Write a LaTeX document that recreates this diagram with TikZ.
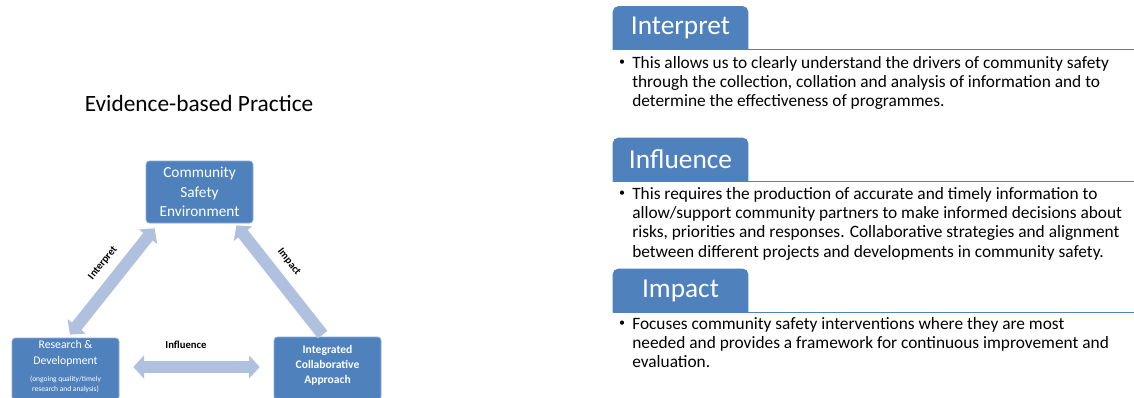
\documentclass[tikz,border=0pt]{standalone}
\usepackage{fontspec}
\setmainfont{Carlito}
\usetikzlibrary{arrows.meta,calc,backgrounds}
\definecolor{boxblue}{HTML}{4F81BD}
\definecolor{arrowblue}{HTML}{AFC1DF}
\definecolor{edgeblue}{HTML}{8FAEDA}
\begin{document}
\begin{tikzpicture}[x=0.75pt,y=-0.75pt,
  cbox/.style={draw=edgeblue, line width=0.5pt, fill=boxblue, rounded corners=2.5pt,
    text=white, align=center, inner sep=0pt, minimum width=80.25pt, minimum height=46.5pt},
  fat/.style={draw=arrowblue, line width=9pt},
  arrlabel/.style={font=\bfseries\fontsize{8}{9}\selectfont, text=black, inner sep=0pt},
  tabtitle/.style={text=white, font=\fontsize{20.5}{22}\selectfont, minimum width=101.25pt,
    minimum height=32.25pt, inner sep=0pt},
  tabfill/.style={fill=boxblue},
  rule/.style={draw=boxblue, line width=0.8pt},
  para/.style={anchor=north west, align=left, inner sep=0pt,
    font=\fontsize{13}{14.5}\selectfont, text=black},
  bullet/.style={inner sep=0pt, font=\fontsize{9}{10}\selectfont}
  ]
\useasboundingbox (0,0) rectangle (1134,397);
\clip (0,0) rectangle (1134,397);
\coordinate (R) at (1134,0);

% Title
\node[inner sep=0pt, font=\fontsize{17.5}{20}\selectfont] (title) at (199,103) {Evidence-based Practice};

% Boxes
\node[cbox, font=\fontsize{11.5}{14.5}\selectfont] (cse) at (199.5,192) {Community\\Safety\\Environment};
\node[cbox, minimum height=46.5pt] (rd) at (65.5,369) {};
\node[align=center, text=white, inner sep=0pt, font=\fontsize{8.8}{12}\selectfont] (rdt) at ($(rd.north)+(0,16)$) {Research \&\\Development};
\node[align=center, text=white, inner sep=0pt, font=\fontsize{5.6}{7.5}\selectfont] (rds) at ($(rd.north)+(0,47)$) {(ongoing quality/timely\\research and analysis)};
\node[cbox, minimum height=47.25pt] (ica) at (327.5,368.5) {};
\node[align=center, text=white, inner sep=0pt, font=\bfseries\fontsize{8.7}{11.2}\selectfont] (icat) at ($(ica.north)+(0,29)$) {Integrated\\Collaborative\\Approach};

% Fat arrows
\draw[fat, {Triangle[width=17pt,length=8pt]}-{Triangle[width=17pt,length=8pt]}]
  ($(rd.north)+(4.5,-3)$) -- ($(cse.south west)+(9,5)$);
\draw[fat, -{Triangle[width=17pt,length=8pt]}]
  ($(ica.north west)+(49,-2)$) -- ($(cse.south east)+(-17,2)$);
\draw[fat, {Triangle[width=17pt,length=8pt]}-{Triangle[width=17pt,length=8pt]}]
  ($(rd.east)+(14,-2)$) -- ($(ica.west)+(-14,-1.5)$);

% Arrow labels
\node[arrlabel, rotate=51.5] (lint) at (103,263) {Interpret};
\node[arrlabel, rotate=-51.7] (limp) at (289,262) {Impact};
\node[arrlabel] (linf) at (186,345) {Influence};

% Right side tabs
\node[tabtitle] (t1) at (680.5,28) {Interpret};
\node[tabtitle] (t2) at (680.5,159.5) {Influence};
\node[tabtitle] (t3) at (680.5,290.5) {Impact};
\begin{scope}[on background layer]
  \fill[white] (0,0) rectangle (1134,397);
  \foreach \t in {t1,t2,t3}{
    \fill[tabfill] (\t.south west) [rounded corners=4pt] -- (\t.north west) -- (\t.north east) [sharp corners] -- (\t.south east) -- cycle;
  }
\end{scope}
\draw[rule] (t1.south west) -- (t1.south west -| R);
\draw[rule] (t2.south west) -- (t2.south west -| R);
\draw[rule] (t3.south west) -- (t3.south west -| R);

\node[bullet] (b1) at (622,63) {•};
\node[para] (p1) at (632,56) {This allows us to clearly understand the drivers of community safety\\through the collection, collation and analysis of information and to\\determine the effectiveness of programmes.};
\node[bullet] (b2) at (622,194) {•};
\node[para] (p2) at (632,187) {This requires the production of accurate and timely information to\\allow/support community partners to make informed decisions about\\risks, priorities and responses. Collaborative strategies and alignment\\between different projects and developments in community safety.};
\node[bullet] (b3) at (622,324) {•};
\node[para] (p3) at (632,317) {Focuses community safety interventions where they are most\\needed and provides a framework for continuous improvement and\\evaluation.};
\end{tikzpicture}
\end{document}
